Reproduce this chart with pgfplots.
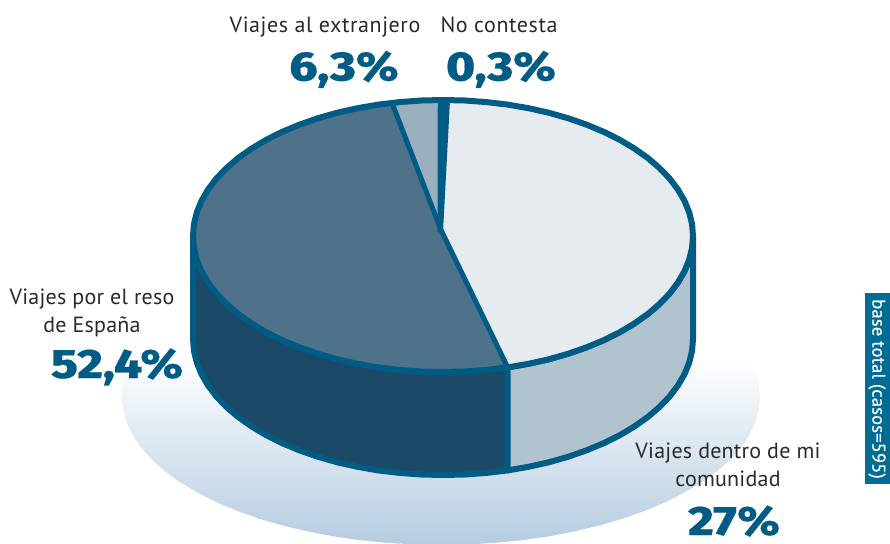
\documentclass[border=0pt]{standalone}
\usepackage{pgfplots}
\pgfplotsset{compat=1.18}
\usepackage{fontspec}
\setmainfont{PT Sans}
\newfontfamily\bigf{Fira Sans ExtraBold}[FakeStretch=1.2,FakeBold=0.4]
\definecolor{rim}{HTML}{005B85}
\definecolor{bar}{HTML}{006C96}
\definecolor{txt}{HTML}{2B2A29}
\definecolor{tl}{HTML}{E5EBEF}
\definecolor{tb}{HTML}{4F728B}
\definecolor{ts}{HTML}{9AB0BF}
\definecolor{sd}{HTML}{1C4966}
\definecolor{sl}{HTML}{B1C3CE}
\definecolor{bgb}{HTML}{B5CCE0}
\newcommand{\lab}[1]{{\fontsize{22}{26}\selectfont\addfontfeature{LetterSpace=1}\color{txt}#1}}
\newcommand{\labt}[1]{{\fontsize{22}{26}\selectfont\addfontfeature{LetterSpace=2.6}\color{txt}#1}}
\newcommand{\pct}[1]{{\fontsize{41}{46}\bigf\color{rim}#1}}
\begin{document}
\begin{tikzpicture}
\begin{axis}[
  scale only axis, width=890pt, height=543pt,
  xmin=-1, xmax=889, ymin=0, ymax=543, y dir=reverse,
  hide axis, clip=true, no markers,
  axis background/.style={fill=white},
  line join=round]
% shadow
\addplot[draw=none, top color=white, bottom color=bgb] coordinates {
(747.2,357)(754.2,371.3)(757.8,384.1)(759,397)(757.8,409.9)(754.2,422.7)(748.1,435.3)(739.8,447.6)(729.1,459.5)(716.3,471)(701.3,481.9)(684.4,492.1)(665.6,501.7)(645,510.4)(623,518.2)(599.5,525.2)(574.8,531.1)(549.1,536.1)(522.6,540)(495.4,542.7)(467.8,544.4)(440,545)
(412.2,544.4)(384.6,542.7)(357.4,540)(330.9,536.1)(305.2,531.1)(280.5,525.2)(257,518.2)(235,510.4)(214.4,501.7)(195.6,492.1)(178.7,481.9)(163.7,471)(150.9,459.5)(140.2,447.6)(131.9,435.3)(125.8,422.7)(122.2,409.9)(121,397)(122.2,384.1)(125.8,371.3)(132.8,357)} -- cycle;
% dark side
\addplot[fill=sd, draw=rim, line width=6pt] coordinates {
(192,236)(192.95,247.9)(195.8,259.6)(200.5,271.2)(207.1,282.5)(215.4,293.5)(225.5,304)(237.2,314)(250.5,323.4)(265.2,332.2)(281.3,340.2)(298.6,347.4)(317,353.8)(336.3,359.3)(356.5,363.8)(377.3,367.4)(398.6,369.9)(420.2,371.5)(442,372)(463.8,371.5)(485.4,369.9)(506.7,367.4)
(506.7,470.4)(485.4,472.9)(463.8,474.5)(442,475)(420.2,474.5)(398.6,472.9)(377.3,470.4)(356.5,466.8)(336.3,462.3)(317,456.8)(298.6,450.4)(281.3,443.2)(265.2,435.2)(250.5,426.4)(237.2,417)(225.5,407)(215.4,396.5)(207.1,385.5)(200.5,374.2)(195.8,362.6)(192.95,350.9)(192,339)} -- cycle;
% light side
\addplot[fill=sl, draw=rim, line width=6pt] coordinates {
(506.7,367.4)(527.5,363.8)(547.7,359.3)(567,353.8)(585.4,347.4)(602.7,340.2)(618.8,332.2)(633.5,323.4)(646.8,314)(658.5,304)(668.6,293.5)(676.9,282.5)(683.5,271.2)(688.2,259.6)(691.05,247.9)(692,236)
(692,339)(691.05,350.9)(688.2,362.6)(683.5,374.2)(676.9,385.5)(668.6,396.5)(658.5,407)(646.8,417)(633.5,426.4)(618.8,435.2)(602.7,443.2)(585.4,450.4)(567,456.8)(547.7,462.3)(527.5,466.8)(506.7,470.4)} -- cycle;
% top: comunidad 27 %
\addplot[fill=tl, draw=none] coordinates {
(440,230)(449,100.1)(463.8,100.5)(485.4,102.1)(506.7,104.6)(527.5,108.2)(547.7,112.7)(567,118.2)(585.4,124.6)(602.7,131.8)(618.8,139.8)(633.5,148.6)(646.8,158)(658.5,168)(668.6,178.5)(676.9,189.5)(683.5,200.8)(688.2,212.4)(691.05,224.1)(692,236)(691.05,247.9)(688.2,259.6)(683.5,271.2)(676.9,282.5)(668.6,293.5)(658.5,304)(646.8,314)(633.5,323.4)(618.8,332.2)(602.7,340.2)(585.4,347.4)(567,353.8)(547.7,359.3)(527.5,363.8)(506.7,367.4)} -- cycle;
% top: resto de Espana 52,4 %
\addplot[fill=tb, draw=none] coordinates {
(440,230)(506.7,367.4)(485.4,369.9)(463.8,371.5)(442,372)(420.2,371.5)(398.6,369.9)(377.3,367.4)(356.5,363.8)(336.3,359.3)(317,353.8)(298.6,347.4)(281.3,340.2)(265.2,332.2)(250.5,323.4)(237.2,314)(225.5,304)(215.4,293.5)(207.1,282.5)(200.5,271.2)(195.8,259.6)(192.95,247.9)(192,236)(192.95,224.1)(195.8,212.4)(200.5,200.8)(207.1,189.5)(215.4,178.5)(225.5,168)(237.2,158)(250.5,148.6)(265.2,139.8)(281.3,131.8)(298.6,124.6)(317,118.2)(336.3,112.7)(356.5,108.2)(377.3,104.6)(391,102.9)} -- cycle;
% top: extranjero 6,3 %
\addplot[fill=ts, draw=none] coordinates {
(440,230)(391,102.9)(398.6,102.1)(420.2,100.5)(436.5,100)} -- cycle;
% top: no contesta 0,3 %
\addplot[fill=rim, draw=none] coordinates {
(436.5,100)(449,100.1)(442,232)(436.5,232)} -- cycle;
% dividers
\addplot[draw=rim, line width=5pt] coordinates {(391,102.9)(440,230)};
\addplot[draw=rim, line width=5pt] coordinates {(440,230)(506.7,367.4)};
% rim
\addplot[draw=rim, line width=6pt] coordinates {
(692,236)(691.05,224.1)(688.2,212.4)(683.5,200.8)(676.9,189.5)(668.6,178.5)(658.5,168)(646.8,158)(633.5,148.6)(618.8,139.8)(602.7,131.8)(585.4,124.6)(567,118.2)(547.7,112.7)(527.5,108.2)(506.7,104.6)(485.4,102.1)(463.8,100.5)(442,100)(420.2,100.5)(398.6,102.1)(377.3,104.6)(356.5,108.2)(336.3,112.7)(317,118.2)(298.6,124.6)(281.3,131.8)(265.2,139.8)(250.5,148.6)(237.2,158)(225.5,168)(215.4,178.5)(207.1,189.5)(200.5,200.8)(195.8,212.4)(192.95,224.1)(192,236)(192.95,247.9)(195.8,259.6)(200.5,271.2)(207.1,282.5)(215.4,293.5)(225.5,304)(237.2,314)(250.5,323.4)(265.2,332.2)(281.3,340.2)(298.6,347.4)(317,353.8)(336.3,359.3)(356.5,363.8)(377.3,367.4)(398.6,369.9)(420.2,371.5)(442,372)(463.8,371.5)(485.4,369.9)(506.7,367.4)(527.5,363.8)(547.7,359.3)(567,353.8)(585.4,347.4)(602.7,340.2)(618.8,332.2)(633.5,323.4)(646.8,314)(658.5,304)(668.6,293.5)(676.9,282.5)(683.5,271.2)(688.2,259.6)(691.05,247.9)} -- cycle;
% side bar
\addplot[fill=bar, draw=none] coordinates {(863.5,292.5)(889,292.5)(889,484)(863.5,484)} -- cycle;
\node[rotate=-90, white, inner sep=0pt] at (axis cs:876,389) {\fontsize{18.5}{20}\selectfont\addfontfeature{FakeBold=0.5,LetterSpace=1}base total (casos=595)};
% labels
\node[anchor=base, inner sep=0pt] at (axis cs:324,33) {\labt{Viajes al extranjero}};
\node[anchor=base, inner sep=0pt] at (axis cs:343,80.5) {\pct{6,3\%}};
\node[anchor=base, inner sep=0pt] at (axis cs:498,33) {\labt{No contesta}};
\node[anchor=base, inner sep=0pt] at (axis cs:500,80.5) {\pct{0,3\%}};
\node[anchor=base, inner sep=0pt] at (axis cs:91,304) {\lab{Viajes por el reso}};
\node[anchor=base, inner sep=0pt] at (axis cs:91,332) {\lab{de España}};
\node[anchor=base, inner sep=0pt] at (axis cs:116,378) {\pct{52,4\%}};
\node[anchor=base, inner sep=0pt] at (axis cs:727,458) {\lab{Viajes dentro de mi}};
\node[anchor=base, inner sep=0pt] at (axis cs:727,486) {\lab{comunidad}};
\node[anchor=base, inner sep=0pt] at (axis cs:733,535) {\pct{27\%}};
\end{axis}
\end{tikzpicture}
\end{document}
